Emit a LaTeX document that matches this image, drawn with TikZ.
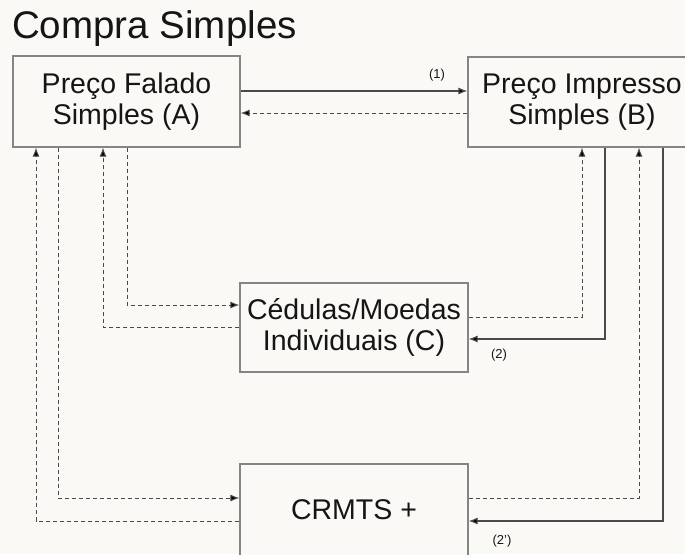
\documentclass[tikz,border=0pt]{standalone}
\usepackage{fontspec}
\setmainfont{Liberation Sans}
\usetikzlibrary{arrows.meta}
\definecolor{bg}{HTML}{FBF9F6}
\definecolor{boxline}{HTML}{858585}
\definecolor{lineclr}{HTML}{4A4A4A}
\definecolor{txt}{HTML}{151515}
\tikzset{
  box/.style={draw=boxline, line width=1.2pt, fill=bg, align=center, text=txt,
    font=\fontsize{28.5}{31.5}\selectfont, inner sep=0pt},
  solidarrow/.style={draw=lineclr, line width=1.1pt, -{Latex[length=9pt,width=7pt,fill=black]}},
  dasharrow/.style={draw=lineclr, line width=1pt, dash pattern=on 4pt off 3pt, -{Latex[length=9pt,width=7pt,fill=black]}},
  small/.style={text=txt, font=\fontsize{13}{15}\selectfont, inner sep=0pt},
}
\begin{document}
\begin{tikzpicture}[x=1pt,y=-1pt]
\useasboundingbox (0,0) rectangle (685,554);
\fill[bg] (0,0) rectangle (685,554);
\clip (0,0) rectangle (685,554);
\node[anchor=base west, inner sep=0pt, text=txt, font=\fontsize{38.5}{41}\selectfont] (title) at (12,38) {Compra Simples};
\node[box, minimum width=227pt, minimum height=91pt] (A) at (126.5,101.5) {Preço Falado\\Simples (A)};
\node[box, minimum width=228pt, minimum height=90pt] (B) at (582,102) {Preço Impresso\\Simples (B)};
\node[box, minimum width=228pt, minimum height=89pt] (C) at (354,327.5) {Cédulas/Moedas\\Individuais (C)};
\node[box, minimum width=228pt, minimum height=92pt] (D) at (354,510) {CRMTS +};
% A <-> B
\draw[solidarrow] (A.east |- 0,91) -- (B.west |- 0,91);
\node[small] (l1) at (437,75) {(1)};
\draw[dasharrow] (B.west |- 0,113) -- (A.east |- 0,113);
% A <-> C
\draw[dasharrow] (A.south -| 127,0) -- (127,305) -- (C.west |- 0,305);
\draw[dasharrow] (C.west |- 0,327) -- (103,327) -- (A.south -| 103,0);
% A <-> D
\draw[dasharrow] (A.south -| 58,0) -- (58,498) -- (D.west |- 0,498);
\draw[dasharrow] (D.west |- 0,521) -- (36,521) -- (A.south -| 36,0);
% B <-> C
\draw[dasharrow] (C.east |- 0,317) -- (582,317) -- (B.south -| 582,0);
\draw[solidarrow] (B.south -| 605,0) -- (605,339) -- (C.east |- 0,339);
\node[small] (l2) at (499,355) {(2)};
% B <-> D
\draw[dasharrow] (D.east |- 0,498) -- (639,498) -- (B.south -| 639,0);
\draw[solidarrow] (B.south -| 663,0) -- (663,521) -- (D.east |- 0,521);
\node[small] (l3) at (502,541) {(2')};
\end{tikzpicture}
\end{document}
